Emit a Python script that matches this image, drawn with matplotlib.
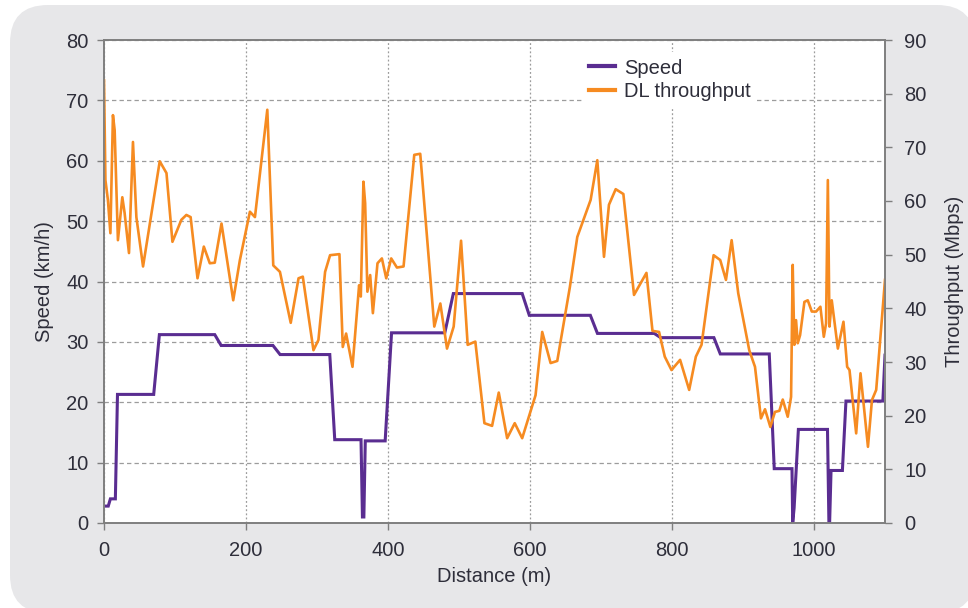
import matplotlib
matplotlib.use("Agg")
import matplotlib.pyplot as plt
from matplotlib.patches import FancyBboxPatch
from matplotlib.lines import Line2D

plt.rcParams['font.family'] = ['Liberation Sans', 'DejaVu Sans']

# Speed profile (km/h) along the route (m)
speed_dist = [0, 6, 9, 16, 19, 70, 78, 156, 165, 238, 248, 318, 325, 362, 364, 366,
              368, 396, 405, 480, 492, 589, 599, 685, 695, 775, 784, 859, 868, 937,
              944, 969, 970, 972, 978, 1019, 1021, 1022, 1024, 1040, 1045, 1097, 1100]
speed_val = [2.8, 2.8, 4.0, 4.0, 21.3, 21.3, 31.2, 31.2, 29.4, 29.4, 27.9, 27.9, 13.8, 13.8, 1.0, 1.0,
             13.6, 13.6, 31.5, 31.5, 38.0, 38.0, 34.4, 34.4, 31.4, 31.4, 30.7, 30.7, 28.0, 28.0,
             9.0, 9.0, 0.0, 2.5, 15.5, 15.5, 0.0, 0.0, 8.7, 8.7, 20.2, 20.2, 27.8]

# DL throughput (Mbps)
tput_dist = [0, 2, 5.5, 9, 12.6, 15, 19.6, 25.8, 29, 35.2, 40.8, 45.6, 55, 78.5, 88, 96.4,
             109, 116, 122, 131.7, 140.6, 149, 156, 165.5, 182, 191.4, 205.5, 212.6, 230,
             238.4, 247.8, 263, 274, 280, 295, 302, 311.4, 318.4, 331.6, 336.3, 341, 350,
             359.3, 361.7, 365.4, 367.8, 371, 374.9, 378.7, 385.2, 391.4, 397.5, 404.5,
             412.6, 421.9, 437, 445.4, 465.2, 473.7, 483.1, 492.5, 502.9, 512.2, 523,
             535.8, 546.6, 556, 567.8, 578.5, 589, 607.8, 617.2, 629, 638.4, 656.2, 666.6,
             685.4, 694.8, 704.2, 711.2, 720.7, 731.5, 746.5, 764, 772.5, 781.8, 789.8,
             799.3, 811.4, 824.2, 833.6, 841.6, 858.6, 867.9, 876, 884, 893.3, 908.8,
             916.9, 925.3, 931, 938.5, 945, 951.2, 956, 963, 967.7, 970, 972.3, 974.7,
             977.1, 980.4, 986.5, 991.2, 996.9, 1003, 1009, 1013.8, 1017, 1019.5, 1021.8,
             1025, 1028, 1033.6, 1041.5, 1046.7, 1050, 1059.4, 1065.5, 1076, 1081.6,
             1087.6, 1100]
tput_val = [82.5, 63.9, 60.2, 54, 76, 73.2, 52.7, 60.7, 57.8, 50.3, 71, 57, 47.8, 67.4, 65.2, 52.4,
            56.5, 57.4, 57, 45.6, 51.5, 48.4, 48.5, 55.8, 41.5, 49, 58, 57, 77,
            48, 46.8, 37.3, 45.6, 45.9, 32.2, 34.1, 46.8, 49.9, 50.1, 32.8, 35.3, 29.1,
            44.3, 42.2, 63.6, 59.6, 43.1, 46.2, 39.1, 48.4, 49.3, 45.6, 49.3,
            47.6, 47.8, 68.6, 68.8, 36.6, 40.9, 32.5, 36.6, 52.6, 33.2, 33.8,
            18.6, 18.1, 24.3, 15.8, 18.6, 15.8, 23.8, 35.6, 29.8, 30.2, 44, 53.3,
            60.2, 67.6, 49.6, 59.3, 62.2, 61.3, 42.5, 46.6, 35.8, 35.6, 31,
            28.5, 30.4, 24.8, 31, 33.2, 49.9, 49, 45.3, 52.7, 42.8, 32.2,
            29.1, 19.5, 21.2, 17.9, 20.7, 20.9, 23, 19.8, 23.5, 48.1, 33.2, 37.8,
            33.5, 35, 41.2, 41.5, 39.4, 39.4, 40.3, 34.7, 37.2, 63.9, 36.6,
            41.5, 38.4, 32.5, 37.5, 29.1, 28.5, 16.7, 27.9, 14.2, 22.9,
            24.8, 45.3]

speed_color = '#5a2d91'
tput_color = '#f68b21'
text_color = '#2e2e3a'
axis_color = '#7f7f7f'
grid_color = '#9c9c9c'

fig = plt.figure(figsize=(9.68, 6.08), dpi=100, facecolor='white')
bg = FancyBboxPatch((0.1, -0.05), 9.65, 6.08, boxstyle="round,pad=0,rounding_size=0.38",
                    transform=fig.dpi_scale_trans, facecolor='#e7e7e9', edgecolor='none', zorder=-10)
fig.patches.append(bg)

ax1 = fig.add_axes([104 / 968, 1 - 523 / 608, (885 - 104) / 968, (523 - 40) / 608])
ax1.set_facecolor('white')
ax2 = ax1.twinx()

ax1.plot(speed_dist, speed_val, color=speed_color, linewidth=2.2, solid_joinstyle='miter')
ax2.plot(tput_dist, tput_val, color=tput_color, linewidth=1.9)

ax1.set_xlim(0, 1100)
ax1.set_ylim(0, 80)
ax2.set_ylim(0, 90)
ax1.set_xticks(range(0, 1001, 200))
ax1.set_yticks(range(0, 81, 10))
ax2.set_yticks(range(0, 91, 10))

ax1.yaxis.grid(True, color=grid_color, linestyle=(0, (3.5, 2.5)), linewidth=0.9)
ax1.xaxis.grid(True, color=grid_color, linestyle=(0, (1.5, 1.8)), linewidth=0.9)
ax1.set_axisbelow(True)

for ax in (ax1, ax2):
    for s in ax.spines.values():
        s.set_color(axis_color)
        s.set_linewidth(1.2)
    ax.tick_params(direction='out', length=5, width=1, color=axis_color,
                   labelsize=14.5, labelcolor=text_color)
ax1.tick_params(axis='y', pad=6)
ax1.tick_params(axis='x', pad=8)
ax2.tick_params(axis='y', pad=9)

ax1.set_xlabel('Distance (m)', fontsize=14.5, color=text_color, labelpad=5)
ax1.set_ylabel('Speed (km/h)', fontsize=14.5, color=text_color, labelpad=9)
ax2.set_ylabel('Throughput (Mbps)', fontsize=14.5, color=text_color, labelpad=13)

handles = [Line2D([], [], color=speed_color, linewidth=3),
           Line2D([], [], color=tput_color, linewidth=3)]
leg = ax2.legend(handles, ['Speed', 'DL throughput'], loc='upper left',
                 bbox_to_anchor=(0.6, 0.995), fontsize=14.5, frameon=True,
                 handlelength=1.3, handletextpad=0.45, labelspacing=0.2,
                 borderpad=0.3)
leg.get_frame().set_facecolor('white')
leg.get_frame().set_edgecolor('none')
leg.get_frame().set_alpha(1)
for t in leg.get_texts():
    t.set_color(text_color)

fig.savefig('out.png', dpi=100, facecolor='white')
